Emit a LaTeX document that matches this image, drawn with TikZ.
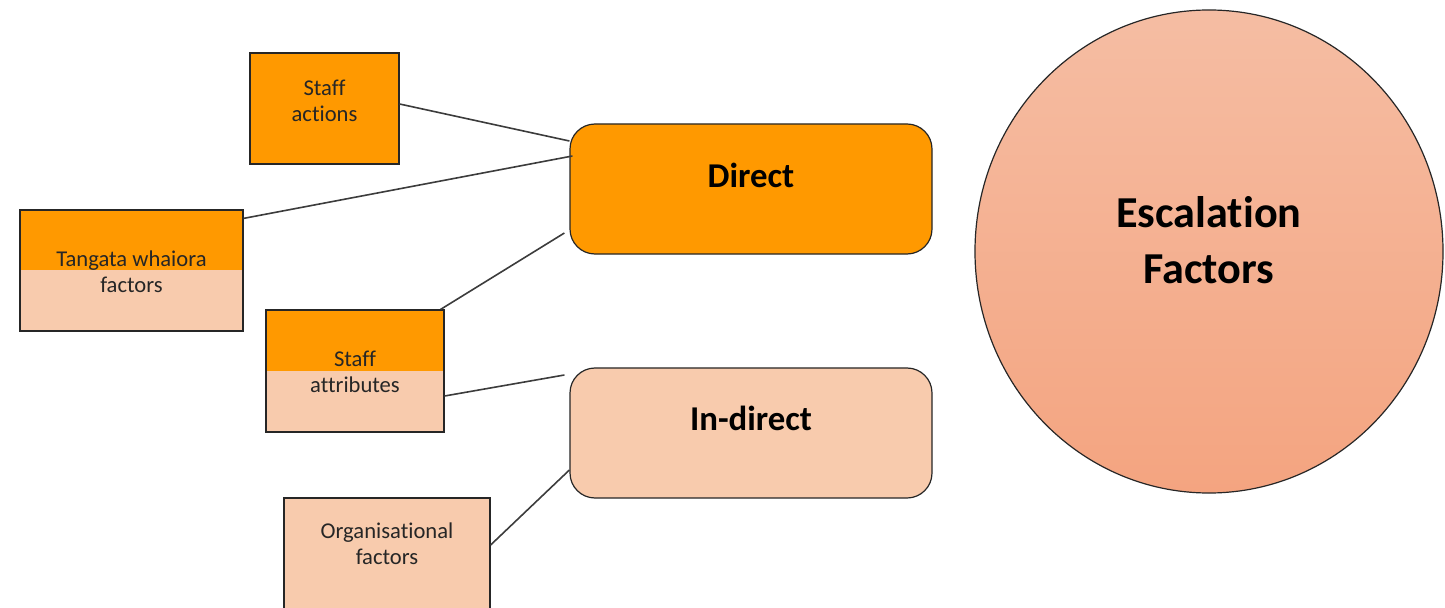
\documentclass[tikz,border=0pt]{standalone}
\usepackage{fontspec}
\setmainfont{Carlito}[Ligatures=NoCommon]
\usetikzlibrary{shapes.geometric}
\definecolor{orng}{HTML}{FF9900}
\definecolor{peach}{HTML}{F8CBAD}
\definecolor{circtop}{HTML}{F5BDA3}
\definecolor{circbot}{HTML}{F4A480}
\definecolor{edgec}{HTML}{262626}
\tikzset{
  box/.style={draw=edgec, line width=0.6bp, rectangle, inner sep=0pt},
  splitbox/.style={box, fill=peach, path picture={\fill[orng] (path picture bounding box.north west) rectangle ([yshift=-#1]path picture bounding box.north east);}},
  txt/.style={align=center, font=\fontsize{11.3bp}{13bp}\selectfont, text=black!85},
  bigbox/.style={draw=edgec, line width=0.6bp, rounded corners=12.5bp, minimum width=181bp, minimum height=65bp, inner sep=0pt},
  bigtxt/.style={font=\fontsize{17.4bp}{20bp}\selectfont\bfseries},
  conn/.style={draw=edgec!90, line width=0.8bp}
}
\begin{document}
\begin{tikzpicture}[x=0.5bp,y=-0.5bp]
\useasboundingbox (0,0) rectangle (1445,608);
% small boxes
\node (sa) [box, fill=orng, minimum width=74.5bp, minimum height=55.5bp,
  label={[txt, yshift=3.75bp]center:Staff\\actions}] at (324.5,108.5) {};
\node (tw) [splitbox=30bp, minimum width=111.5bp, minimum height=60.5bp,
  label={[txt, yshift=-0.75bp]center:Tangata whaiora\\factors}] at (131.5,270.5) {};
\node (st) [splitbox=30.5bp, minimum width=89bp, minimum height=61bp,
  label={[txt, yshift=-0.5bp]center:Staff\\attributes}] at (355,371) {};
\node (org) [box, fill=peach, minimum width=103bp, minimum height=61bp,
  label={[txt, yshift=7.5bp]center:Organisational\\factors}] at (387,559) {};
% main boxes
\node (dir) [bigbox, fill=orng,
  label={[bigtxt, yshift=7bp]center:Direct}] at (751,189) {};
\node (ind) [bigbox, fill=peach,
  label={[bigtxt, yshift=7.5bp]center:In-direct}] at (751,433) {};
% circle
\node (esc) [ellipse, draw=edgec, line width=0.6bp, top color=circtop, bottom color=circbot,
  minimum width=234bp, minimum height=241.5bp, inner sep=0pt,
  label={[align=center, font=\fontsize{22.1bp}{28bp}\selectfont\bfseries, yshift=5.75bp]center:Escalation\\Factors}] at (1209,251.5) {};
% connectors
\draw[conn] ([yshift=2.25bp]sa.east) -- ([yshift=24bp]dir.west);
\draw[conn] ([yshift=-4.5bp]tw.north east) -- ([xshift=1.5bp,yshift=16.5bp]dir.west);
\draw[conn] ([xshift=-2bp]st.north east) -- ([xshift=-2.5bp,yshift=-22bp]dir.west);
\draw[conn] ([yshift=-12.5bp]st.east) -- ([xshift=-2.5bp,yshift=29bp]ind.west);
\draw[conn] ([yshift=7bp]org.east) -- ([yshift=-18.5bp]ind.west);
\end{tikzpicture}
\end{document}
